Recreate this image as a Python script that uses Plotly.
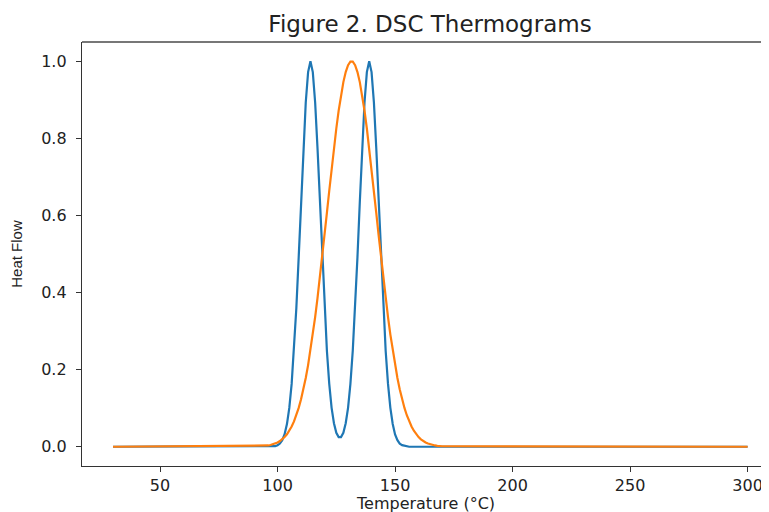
import plotly.graph_objects as go

# Temperature samples (°C)
temperature = [30, 95, 96, 97, 98, 99, 100, 101, 102, 103, 104, 105, 106, 107, 108, 109,
               110, 111, 112, 113, 114, 115, 116, 117, 118, 119, 120, 121, 122, 123, 124,
               125, 126, 127, 128, 129, 130, 131, 132, 133, 134, 135, 136, 137, 138, 139,
               140, 141, 142, 143, 144, 145, 146, 147, 148, 149, 150, 151, 152, 153, 154,
               155, 156, 157, 158, 159, 160, 161, 162, 163, 164, 165, 166, 167, 168, 169,
               170, 300]

# Series 1 (blue) heat flow, two endotherms
heat_flow_a = [0.0, 0.0, 0.0001, 0.0003, 0.0007, 0.0017, 0.0039, 0.0083, 0.0169, 0.0324,
               0.0588, 0.1007, 0.163, 0.249, 0.360, 0.492, 0.635, 0.775, 0.893, 0.972, 1.0,
               0.972, 0.893, 0.775, 0.635, 0.492, 0.360, 0.249, 0.163, 0.101, 0.061, 0.036,
               0.025, 0.025, 0.036, 0.061, 0.101, 0.163, 0.249, 0.360, 0.492, 0.635, 0.775,
               0.893, 0.972, 1.0, 0.972, 0.893, 0.775, 0.635, 0.492, 0.360, 0.249, 0.163,
               0.101, 0.059, 0.032, 0.017, 0.008, 0.004, 0.002, 0.001, 0.0, 0.0, 0.0, 0.0,
               0.0, 0.0, 0.0, 0.0, 0.0, 0.0, 0.0, 0.0, 0.0, 0.0, 0.0, 0.0]

# Series 2 (orange) heat flow, single broad endotherm
heat_flow_b = [0.0, 0.0024, 0.0033, 0.0045, 0.0062, 0.0083, 0.0111, 0.0147, 0.0193, 0.0251,
               0.0324, 0.0414, 0.0524, 0.0657, 0.0817, 0.1007, 0.123, 0.1487, 0.1783, 0.2118,
               0.2494, 0.291, 0.3364, 0.3854, 0.4376, 0.4923, 0.5489, 0.6065, 0.6641, 0.7206,
               0.7748, 0.8256, 0.8718, 0.9123, 0.946, 0.9721, 0.9898, 0.9989, 0.9989, 0.9898,
               0.9721, 0.946, 0.9123, 0.8718, 0.8256, 0.7748, 0.7206, 0.6641, 0.6065, 0.5489,
               0.4923, 0.4376, 0.3854, 0.3364, 0.291, 0.2494, 0.2118, 0.1783, 0.1487, 0.123,
               0.1007, 0.0817, 0.0657, 0.0524, 0.0414, 0.0324, 0.0251, 0.0193, 0.0147, 0.0111,
               0.0083, 0.0062, 0.0045, 0.0033, 0.0024, 0.0017, 0.0012, 0.0]

x_ticks = [50, 100, 150, 200, 250, 300]
y_ticks = [0.0, 0.2, 0.4, 0.6, 0.8, 1.0]
x_title = "Temperature (°C)"

W, H = 761, 504  # page adds an 8px body margin on the left/top
PLOT_H = H - 34 - 46

fig = go.Figure()
fig.add_trace(go.Scatter(x=temperature, y=heat_flow_a, mode="lines",
                         line=dict(color="#1f77b4", width=2.2), showlegend=False))
fig.add_trace(go.Scatter(x=temperature, y=heat_flow_b, mode="lines",
                         line=dict(color="#ff7f0e", width=2.2), showlegend=False))

fig.update_layout(
    width=W, height=H,
    margin=dict(l=74, r=0, t=34, b=46, autoexpand=False),
    paper_bgcolor="white", plot_bgcolor="white",
    font=dict(family="DejaVu Sans", color="#222"),
    title=dict(text="Figure 2. DSC Thermograms", x=422 / W, xanchor="center",
               xref="container", yref="container", y=1 - 16 / H, yanchor="middle",
               font=dict(size=23, family="DejaVu Sans", color="#222")),
)
fig.update_xaxes(range=[16.8, 309.1], tickvals=x_ticks, ticks="outside", ticklen=5,
                 tickcolor="#333", showline=True, linecolor="#333", linewidth=1.3,
                 showgrid=False, zeroline=False, tickfont=dict(size=16), automargin=False)
fig.update_yaxes(range=[-0.05, 1.05], tickvals=y_ticks, tickformat=".1f", ticks="outside",
                 ticklen=5, tickcolor="#333", showline=True, linecolor="#333",
                 linewidth=1.3, showgrid=False, zeroline=False, tickfont=dict(size=16),
                 automargin=False, ticklabelstandoff=6,
                 title=dict(text="Heat Flow", font=dict(size=15, family="Liberation Sans"),
                            standoff=16))
fig.add_annotation(text=x_title, xref="x domain", yref="paper", x=0.5,
                   xanchor="center", y=-37 / PLOT_H, yanchor="middle", showarrow=False,
                   font=dict(size=16, family="DejaVu Sans", color="#222"))
fig.add_shape(type="line", xref="paper", yref="paper", x0=0, x1=1, y0=1, y1=1,
              line=dict(color="#777", width=2.2))

fig.write_html("out.html")
